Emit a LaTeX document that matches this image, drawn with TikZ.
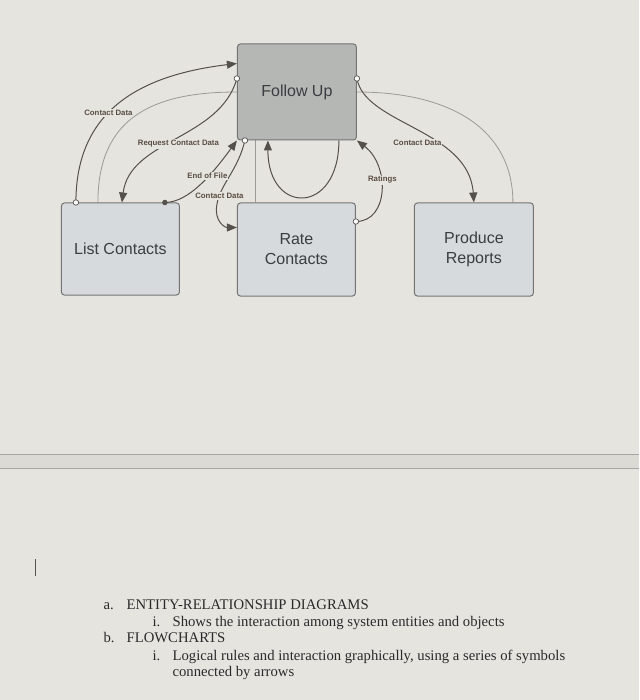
\documentclass[tikz,border=0pt]{standalone}
\usepackage{fontspec}
\setmainfont{Liberation Serif}
\setsansfont{Liberation Sans}
\usetikzlibrary{arrows.meta,calc}
\pgfdeclarelayer{back}\pgfdeclarelayer{bg}
\pgfsetlayers{back,bg,main}
\definecolor{bgcol}{HTML}{E5E4DF}
\definecolor{fucol}{HTML}{B5B7B5}
\definecolor{boxcol}{HTML}{D6DADC}
\definecolor{boxline}{HTML}{747474}
\definecolor{boxtext}{HTML}{3A3E42}
\definecolor{conncol}{HTML}{55504C}
\definecolor{labcol}{HTML}{5A4C42}
\definecolor{archcol}{HTML}{9C9A96}
\definecolor{bodytext}{HTML}{2A2A2A}
\definecolor{bandcol}{HTML}{DBDAD5}
\definecolor{bandline}{HTML}{A6A6A2}
\begin{document}
\begin{tikzpicture}[x=1pt,y=-1pt,
  box/.style={draw=boxline, line width=1pt, rounded corners=3pt, align=center,
    font=\sffamily\fontsize{16}{20}\selectfont, text=boxtext, inner sep=0pt},
  conn/.style={draw=conncol, line width=1pt},
  arr/.style={conn, -{Triangle[length=10pt,width=8pt]}},
  arch/.style={draw=archcol, line width=0.8pt},
  lab/.style={font=\sffamily\bfseries\fontsize{7.8}{9}\selectfont, text=labcol, fill=bgcol, inner sep=1pt},
  port/.style={circle, draw=conncol, fill=white, line width=0.7pt, minimum size=5.5pt, inner sep=0pt},
  dotport/.style={circle, fill=conncol, minimum size=5.5pt, inner sep=0pt},
  body/.style={font=\fontsize{14.7}{17}\selectfont, text=bodytext, anchor=base west, inner sep=0pt}]

\begin{pgfonlayer}{back}
  \fill[bgcol] (0,0) rectangle (639,700);
  \fill[bandcol] (0,454) rectangle (639,468);
  \draw[bandline, line width=0.8pt] (0,454) -- (639,454) (0,468) -- (639,468);
  \draw[bodytext!80, line width=1.2pt] (35,559) -- (35,576);
\end{pgfonlayer}
\useasboundingbox (0,0) rectangle (639,700);

% boxes
\node[box, fill=fucol, minimum width=119pt, minimum height=96pt] (fu) at (296.5,92) {Follow Up};
\node[box, fill=boxcol, minimum width=118pt, minimum height=92pt] (lc) at (120,249) {List Contacts};
\node[box, fill=boxcol, minimum width=118pt, minimum height=93pt] (rc) at (296,249.5) {Rate\\Contacts};
\node[box, fill=boxcol, minimum width=119pt, minimum height=93pt] (pr) at (473.5,249.5) {Produce\\Reports};

% end points
\coordinate (c1a) at ($(lc.north west)+(15,0)$);
\coordinate (c1b) at ($(fu.north west)+(0,20)$);
\coordinate (ga) at ($(lc.north west)+(37,0)$);
\coordinate (gb) at (fu.west);
\coordinate (gc) at (fu.east);
\coordinate (gd) at ($(pr.north east)+(-21,0)$);
\coordinate (c3a) at ($(fu.north west)+(0,35)$);
\coordinate (c3b) at ($(lc.north west)+(61,0)$);
\coordinate (c4a) at ($(lc.north west)+(104,0)$);
\coordinate (c4b) at (fu.south west);
\coordinate (c5a) at ($(fu.south west)+(8,0)$);
\coordinate (c5m) at ($(rc.north west)+(-20,2)$);
\coordinate (c5b) at ($(rc.north west)+(0,25)$);
\coordinate (v1) at ($(fu.south west)+(18,0)$);
\coordinate (v2) at ($(rc.north west)+(18,0)$);
\coordinate (l1) at ($(fu.south west)+(102,0)$);
\coordinate (l2) at ($(fu.south west)+(31,0)$);
\coordinate (r1) at ($(rc.north east)+(0,19)$);
\coordinate (r2) at (fu.south east);
\coordinate (c9a) at ($(fu.north east)+(0,35)$);
\coordinate (c9b) at (pr.north);

% arch behind Follow Up
\begin{pgfonlayer}{bg}
  \draw[arch] (ga) .. controls +(0,-83) and +(-87,0) .. (gb) -- (gc)
    .. controls +(94,0) and +(0,-73) .. (gd);
  \draw[arch] (v1) -- (v2);
\end{pgfonlayer}

% connectors
\draw[arr] (c1a) .. controls +(0,-90) and +(-100,12) .. (c1b);
\draw[arr] (c3a) .. controls +(-17,61) and +(8,-63) .. (c3b);
\draw[arr] (c4a) .. controls +(25,0) and +(-22,30) .. (c4b);
\draw[arr] (c5a) .. controls +(-7,30) and +(3,-20) .. (c5m) .. controls +(-3,17) and +(-12,0) .. (c5b);
\draw[arr] (l1) .. controls +(0,75) and +(0,75) .. (l2);
\draw[arr] (r1) .. controls +(33,0) and +(33,25) .. (r2);
\draw[arr] (c9a) .. controls +(8,46) and +(-5,-73) .. (c9b);

% ports
\node[port] (p1) at (c1a) {};
\node[port] (p3) at (c3a) {};
\node[dotport] (p4) at (c4a) {};
\node[port] (p5) at (c5a) {};
\node[port] (p8) at (r1) {};
\node[port] (p9) at (c9a) {};

% labels
\node[lab] (lb1) at (108,113) {Contact Data};
\node[lab] (lb3) at (178,144) {Request Contact Data};
\node[lab] (lb4) at (207,176) {End of File};
\node[lab] (lb5) at (219,196) {Contact Data};
\node[lab] (lb8) at (382,180) {Ratings};
\node[lab] (lb9) at (417,143) {Contact Data};

% body text
\node[body] (ta) at (103,609) {a.};
\node[body] (tat) at (126,609) {ENTITY-RELATIONSHIP DIAGRAMS};
\node[body] (tai) at (152,626) {i.};
\node[body] (tait) at (172,626) {Shows the interaction among system entities and objects};
\node[body] (tb) at (103,642) {b.};
\node[body] (tbt) at (126,642) {FLOWCHARTS};
\node[body] (tbi) at (152,660) {i.};
\node[body] (tbit) at (172,660) {Logical rules and interaction graphically, using a series of symbols};
\node[body] (tbit2) at (172,676) {connected by arrows};
\end{tikzpicture}
\end{document}
